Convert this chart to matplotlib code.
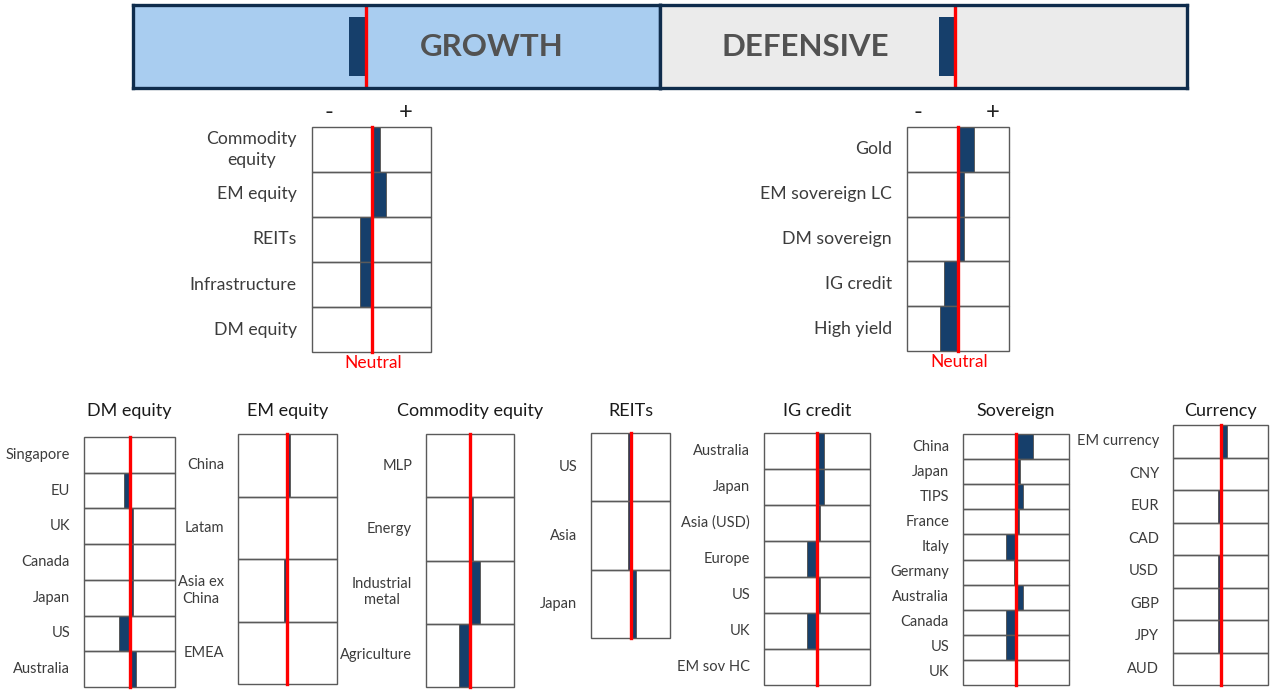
import matplotlib.pyplot as plt
from matplotlib.patches import Rectangle

W, H = 1283, 695
plt.rcParams['font.family'] = ['Lato', 'DejaVu Sans']

# ── data: tilts, in units of half a panel width (neutral = 0) ──
banner_names = ["GROWTH", "DEFENSIVE"]
banner_values = [-0.28, -0.27]          # units of 60 px

growth_labels = ["Commodity\nequity", "EM equity", "REITs", "Infrastructure", "DM equity"]
growth_values = [0.14, 0.25, -0.20, -0.20, 0.0]

defensive_labels = ["Gold", "EM sovereign LC", "DM sovereign", "IG credit", "High yield"]
defensive_values = [0.32, 0.11, 0.11, -0.28, -0.35]

dm_labels = ["Singapore", "EU", "UK", "Canada", "Japan", "US", "Australia"]
dm_values = [0.0, -0.11, 0.07, 0.07, 0.07, -0.24, 0.14]

em_labels = ["China", "Latam", "Asia ex\nChina", "EMEA"]
em_values = [0.05, 0.0, -0.075, 0.0]

comm_labels = ["MLP", "Energy", "Industrial\nmetal", "Agriculture"]
comm_values = [0.0, 0.06, 0.23, -0.24]

reit_labels = ["US", "Asia", "Japan"]
reit_values = [-0.07, -0.07, 0.13]

ig_labels = ["Australia", "Japan", "Asia (USD)", "Europe", "US", "UK", "EM sov HC"]
ig_values = [0.13, 0.13, 0.06, -0.19, 0.06, -0.19, 0.0]

sov_labels = ["China", "Japan", "TIPS", "France", "Italy", "Germany",
              "Australia", "Canada", "US", "UK"]
sov_values = [0.33, 0.07, 0.14, 0.06, -0.19, -0.04, 0.14, -0.19, -0.19, 0.0]

fx_labels = ["EM currency", "CNY", "EUR", "CAD", "USD", "GBP", "JPY", "AUD"]
fx_values = [0.13, 0.0, -0.05, 0.04, -0.05, -0.05, -0.05, 0.04]

NAVY = "#163f6b"
BORDER = "#0f2c4c"
RED = "#ff0000"
GRID = "#5a5a5a"
TXT = "#3c3c3c"

fig = plt.figure(figsize=(W / 100, H / 100), dpi=100)


def px_axes(x0, y0, x1, y1):
    return fig.add_axes([x0 / W, 1 - y1 / H, (x1 - x0) / W, (y1 - y0) / H])


def tilt_panel(box, labels, values, size, pad=10, spacing=1.25):
    ax = px_axes(*box)
    n = len(values)
    ax.set_xlim(-1, 1)
    ax.set_ylim(n, 0)
    ax.axis("off")
    for i, v in enumerate(values):
        ax.barh(i + 0.5, v, height=1, color=NAVY, lw=0)
        ax.add_patch(Rectangle((-1, i), 2, 1, fill=False, ec=GRID, lw=1.0, clip_on=False))
        if v:
            ax.plot([v, v], [i, i + 1], color=GRID, lw=0.7, clip_on=False)
        ax.annotate(labels[i], xy=(0, i + 0.5), xycoords=("axes fraction", "data"),
                    xytext=(-pad, 0), textcoords="offset points",
                    ha="right", va="center", multialignment="center",
                    fontsize=size, color=TXT, linespacing=spacing)
    ax.axvline(0, color=RED, lw=2.4, clip_on=False)
    return ax


# ── banner ──
banner_boxes = [(133, 5, 660, 88), (660, 5, 1187, 88)]
banner_neutral = [366, 955]
banner_fill = ["#a9cdf0", "#ebebeb"]
banner_text_x = [492, 805]
for name, val, (x0, y0, x1, y1), nx, fc, tx in zip(banner_names, banner_values, banner_boxes,
                                                   banner_neutral, banner_fill, banner_text_x):
    ax = px_axes(x0, y0, x1, y1)
    ax.set_xlim((x0 - nx) / 60, (x1 - nx) / 60)
    ax.set_ylim(0, 1)
    ax.set_facecolor(fc)
    ax.set_xticks([])
    ax.set_yticks([])
    for s in ax.spines.values():
        s.set_color(BORDER)
        s.set_linewidth(2.4)
    ax.add_patch(Rectangle((0, 0.15), val, 0.71, color=NAVY, lw=0))
    ax.axvline(0, ymin=0.0, ymax=0.97, color=RED, lw=2.4)
    ax.text((tx - x0) / (x1 - x0), 0.5, name, transform=ax.transAxes, ha="center",
            va="center", fontsize=22.5, fontweight="bold", color="#525252")

# ── top panels ──
g_ax = tilt_panel((312, 127, 431, 352), growth_labels, growth_values, 12.7, pad=11, spacing=1.45)
d_ax = tilt_panel((907, 127, 1009, 351), defensive_labels, defensive_values, 12.7, pad=11)
for ax, xm, xp in [(g_ax, -0.72, 0.57), (d_ax, -0.78, 0.68)]:
    ax.text(xm, 1.065, "-", transform=ax.get_xaxis_transform(), ha="center", va="center",
            fontsize=17, color="#222222")
    ax.text(xp, 1.065, "+", transform=ax.get_xaxis_transform(), ha="center", va="center",
            fontsize=17, color="#222222")
    ax.text(0.03, -0.05, "Neutral", transform=ax.get_xaxis_transform(), ha="center",
            va="center", fontsize=12.5, color=RED)

# ── bottom panels ──
bottom = [
    ("DM equity", (84, 437, 175, 687), dm_labels, dm_values),
    ("EM equity", (238, 434, 337, 684), em_labels, em_values),
    ("Commodity equity", (426, 434, 514, 687), comm_labels, comm_values),
    ("REITs", (591, 433, 670, 638), reit_labels, reit_values),
    ("IG credit", (764, 433, 870, 685), ig_labels, ig_values),
    ("Sovereign", (963, 434, 1069, 685), sov_labels, sov_values),
    ("Currency", (1173, 425, 1268, 685), fx_labels, fx_values),
]
for title, box, labels, values in bottom:
    tilt_panel(box, labels, values, 10.5)
    fig.text((box[0] + box[2]) / 2 / W, 1 - 411 / H, title, ha="center", va="center",
             fontsize=13, color="#1a1a1a")

fig.savefig("out.png", dpi=100)
